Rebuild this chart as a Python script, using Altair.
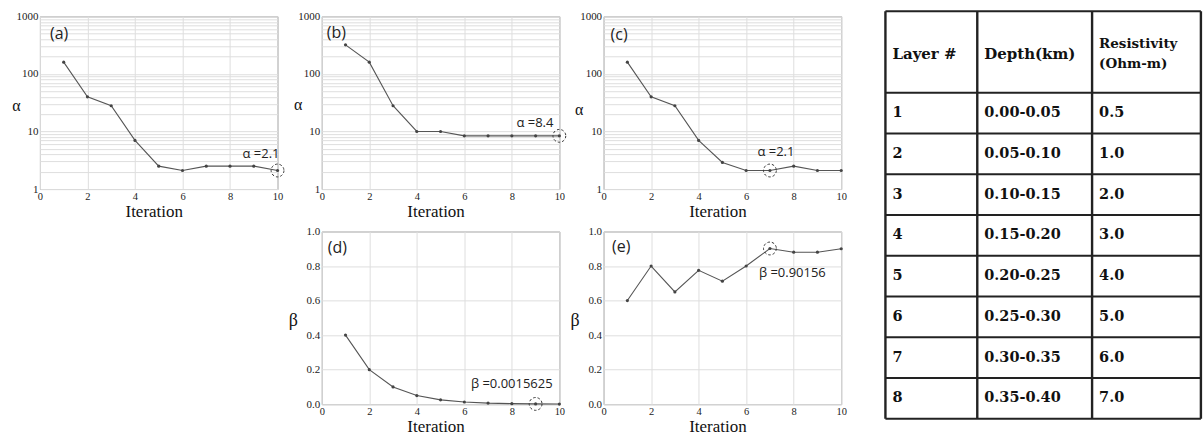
import altair as alt
import pandas as pd

# ---------------- data ----------------
iterations = [1, 2, 3, 4, 5, 6, 7, 8, 9, 10]
alpha_a = [160, 40, 28, 7.0, 2.5, 2.1, 2.5, 2.5, 2.5, 2.1]
alpha_b = [320, 160, 28, 10, 10, 8.4, 8.4, 8.4, 8.4, 8.4]
alpha_c = [160, 40, 28, 7.0, 2.9, 2.1, 2.1, 2.5, 2.1, 2.1]
beta_d = [0.4, 0.2, 0.1, 0.05, 0.025, 0.0125, 0.00625, 0.003125, 0.0015625, 0.00078125]
beta_e = [0.6, 0.8, 0.65, 0.775, 0.7125, 0.8, 0.90156, 0.88, 0.88, 0.9]

x_ticks = [0, 2, 4, 6, 8, 10]
log_grid = [1, 2, 3, 4, 5, 6, 7, 8, 9,
            10, 20, 30, 40, 50, 60, 70, 80, 90,
            100, 200, 300, 400, 500, 600, 700, 800, 900, 1000]
beta_ticks = [0.0, 0.2, 0.4, 0.6, 0.8, 1.0]

panel_labels = ["(a)", "(b)", "(c)", "(d)", "(e)"]
ann_iters = [10, 10, 7, 9, 7]
ann_texts = ["α =2.1", "α =8.4", "α =2.1", "β =0.0015625", "β =0.90156"]

layer_no = ["1", "2", "3", "4", "5", "6", "7", "8"]
depth_km = ["0.00-0.05", "0.05-0.10", "0.10-0.15", "0.15-0.20",
            "0.20-0.25", "0.25-0.30", "0.30-0.35", "0.35-0.40"]
resistivity = ["0.5", "1.0", "2.0", "3.0", "4.0", "5.0", "6.0", "7.0"]
header_texts = ["Layer #", "Depth(km)", "Resistivity", "(Ohm-m)"]

# ---------------- layout / style ----------------
PW, PH = 238, 173
SERIF = "'Liberation Serif', 'Times New Roman', serif"
TSERIF = "'DejaVu Serif', serif"
SANS = "'Open Sans', sans-serif"
INK = "#222222"


def panel(values, idx, log, ann_align, ann_dx, ann_dy, lab_dx, lab_dy,
          ytitle, ytitle_size, ytitle_x, ytitle_y):
    df = pd.DataFrame({"it": iterations, "v": values})
    common = dict(labelOverlap=False, labelPadding=2, ticks=False, tickSize=0, domain=False,
                  titleAngle=0, titleAlign="center", titleBaseline="alphabetic",
                  titleX=ytitle_x, titleY=ytitle_y, titleFontSize=ytitle_size)
    if log:
        ysc = alt.Scale(type="log", domain=[1, 1000])
        yax = alt.Axis(
            title=ytitle, values=log_grid,
            labelExpr="(datum.value==1||datum.value==10||datum.value==100||datum.value==1000) ? format(datum.value,'d') : ''",
            **common)
        top = 1000
    else:
        ysc = alt.Scale(domain=[0, 1])
        yax = alt.Axis(title=ytitle, values=beta_ticks, format=".1f", **common)
        top = 1
    X = alt.X("it:Q", scale=alt.Scale(domain=[0, 10], nice=False),
              axis=alt.Axis(title="Iteration", values=x_ticks, format="d",
                            labelFlush=False, labelOverlap=False, labelPadding=2,
                            labelFontSize=10.5,
                            ticks=False, tickSize=0, domain=False,
                            titleX=PW / 2 - 5, titleY=27, titleBaseline="alphabetic",
                            titleFontSize=17))
    Y = alt.Y("v:Q", scale=ysc, axis=yax)

    base = alt.Chart(df).encode(x=X, y=Y)
    line = base.mark_line(color="#555555", strokeWidth=1.1)
    pts = base.mark_point(filled=True, size=10, color="#444444", opacity=1)

    ai = ann_iters[idx]
    ann_df = pd.DataFrame({"it": [ai], "v": [values[ai - 1]], "t": [ann_texts[idx]]})
    circ = alt.Chart(ann_df).mark_point(
        shape="circle", size=165, filled=False, stroke="#333333",
        strokeWidth=1, strokeDash=[2.5, 2], opacity=1
    ).encode(x=X, y=Y)
    txt = alt.Chart(ann_df).mark_text(
        align=ann_align, baseline="middle", dx=ann_dx, dy=ann_dy,
        font=SANS, fontSize=13, color=INK
    ).encode(x=X, y=Y, text="t:N")

    lab_df = pd.DataFrame({"it": [0], "v": [top], "t": [panel_labels[idx]]})
    lab = alt.Chart(lab_df).mark_text(
        align="left", baseline="middle", dx=lab_dx, dy=lab_dy,
        font=SANS, fontSize=16, color=INK
    ).encode(x=X, y=Y, text="t:N")

    return alt.layer(line, pts, circ, txt, lab).properties(width=PW, height=PH)


pa = panel(alpha_a, 0, True, "right", 2, -17, 10, 17.5, "α", 16, -24, 94)
pb = panel(alpha_b, 1, True, "right", -6, -13, 5, 17, "α", 16, -24, 93)
pc = panel(alpha_c, 2, True, "center", 6, -19, 7, 18.5, "α", 16, -25, 98)
pdd = panel(beta_d, 3, False, "right", 17, -20, 6, 16.5, "β", 18, -29, 94)
pe = panel(beta_e, 4, False, "left", -11, 25, 8.5, 15.5, "β", 18, -29, 94)

# ---------------- table ----------------
# The table sits in the first grid row (height PH) and extends downward;
# its rows are 40.8 px tall, header spans two rows, top edge 5 px above the plots.
TW = 316
ROW_PX = 40.8
col_edges = [0, 92, 207, 316]
y0 = 5 / ROW_PX
tx = alt.Scale(domain=[0, TW], nice=False)
ty = alt.Scale(domain=[y0, y0 + PH / ROW_PX], reverse=True, nice=False, zero=False)

rows = pd.DataFrame({"layer": layer_no, "depth": depth_km, "res": resistivity})
rows["ymid"] = [i + 2.5 for i in range(len(layer_no))]

hlines = pd.DataFrame({"y": [0, 2, 3, 4, 5, 6, 7, 8, 9, 10]})
vlines = pd.DataFrame({"x": col_edges})
hdr = pd.DataFrame({
    "t": header_texts,
    "x": [col_edges[0], col_edges[1], col_edges[2], col_edges[2]],
    "y": [1.05, 1.05, 0.8, 1.3],
    "s": [15, 15, 13.5, 13.5],
})

hr = alt.Chart(hlines).mark_rule(color=INK, strokeWidth=2).encode(
    y=alt.Y("y:Q", scale=ty, axis=None),
    x=alt.XDatum(0, scale=tx, axis=None), x2=alt.datum(TW))
vr = alt.Chart(vlines).mark_rule(color=INK, strokeWidth=2.4).encode(
    x=alt.X("x:Q", scale=tx, axis=None),
    y=alt.YDatum(0, scale=ty, axis=None), y2=alt.datum(10))

hdr_txt = alt.Chart(hdr).mark_text(
    align="left", baseline="middle", dx=7, font=TSERIF,
    fontWeight="bold", color="#111111"
).encode(x=alt.X("x:Q", scale=tx, axis=None), y=alt.Y("y:Q", scale=ty, axis=None),
         text="t:N", size=alt.Size("s:Q", scale=None, legend=None))


def col_text(field, ci):
    return alt.Chart(rows).mark_text(
        align="left", baseline="middle", dx=7, font=TSERIF,
        fontWeight="bold", fontSize=14.5, color="#111111"
    ).encode(x=alt.XDatum(col_edges[ci], scale=tx, axis=None),
             y=alt.Y("ymid:Q", scale=ty, axis=None), text=f"{field}:N")


table = alt.layer(hr, vr, hdr_txt, col_text("layer", 0), col_text("depth", 1),
                  col_text("res", 2)).properties(
    width=TW, height=PH, view=alt.ViewBackground(strokeOpacity=0))

# empty cell below panel (a)
blank = alt.Chart(pd.DataFrame({"a": [0]})).mark_point(opacity=0).encode(
    x=alt.X("a:Q", axis=None), y=alt.Y("a:Q", axis=None)
).properties(width=PW, height=PH, view=alt.ViewBackground(strokeOpacity=0))

# ---------------- compose ----------------
chart = alt.concat(
    pa, pb, pc, table, blank, pdd, pe,
    columns=4, spacing={"row": 42.5, "column": 44.3},
    bounds="flush", align="each",
).properties(
    padding={"left": 11, "top": 9, "right": 0, "bottom": 0},
    background="white",
).configure_view(stroke="#8c8c8c", strokeWidth=1).configure_axis(
    labelFont=SERIF, labelFontSize=11, labelColor=INK,
    titleFont=SERIF, titleFontWeight="normal", titleColor="#111111",
    gridColor="#dedede", gridWidth=1,
)

chart.save("out.html", embed_options={"renderer": "svg", "actions": False})
